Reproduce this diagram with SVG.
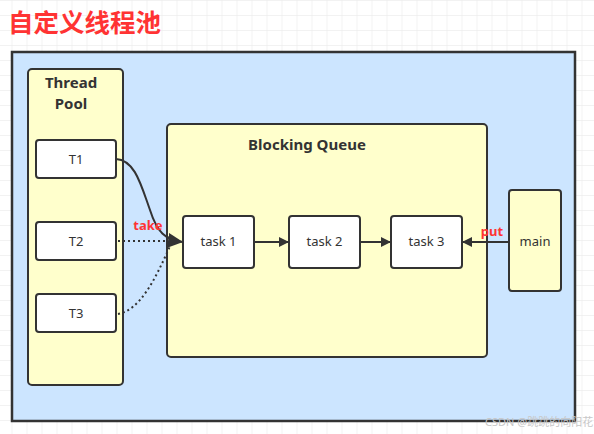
<svg xmlns="http://www.w3.org/2000/svg" width="594" height="434" viewBox="0 0 594 434">
<defs>
<pattern id="grid" x="11.5" y="0" width="15" height="15" patternUnits="userSpaceOnUse">
<path d="M0 0H15M0 0V15" fill="none" stroke="#e6e6e6" stroke-width="1"/>
</pattern>
<marker id="ah" viewBox="0 0 10 10" refX="10" refY="5" markerWidth="10" markerHeight="10" markerUnits="userSpaceOnUse" orient="auto">
<path d="M0 0L10 5L0 10Z" fill="#333"/>
</marker>
<marker id="ahb" viewBox="0 0 10 10" refX="10" refY="5" markerWidth="15" markerHeight="15" markerUnits="userSpaceOnUse" orient="auto">
<path d="M0 0L10 5L0 10Z" fill="#333"/>
</marker>
</defs>
<style>
.box{fill:#fff;stroke:#333;stroke-width:2}
.cont{fill:#ffffcc;stroke:#333;stroke-width:2}
.t{font-family:"Noto Sans","Open Sans",sans-serif;font-size:13px;fill:#333;text-anchor:middle}
.b{font-family:"Noto Sans","Open Sans",sans-serif;font-size:15px;font-weight:bold;fill:#333;text-anchor:middle}
.r{font-family:"Noto Sans","Open Sans",sans-serif;font-size:13px;font-weight:bold;fill:#ff3333;text-anchor:middle}
.c{fill:none;stroke:#333;stroke-width:2}
.d{fill:none;stroke:#333;stroke-width:2;stroke-dasharray:2 3}
</style>
<rect width="594" height="434" fill="#fff"/>
<rect width="594" height="434" fill="url(#grid)"/>
<text x="8" y="32" font-family="'Noto Sans CJK SC',sans-serif" font-size="25.5" font-weight="bold" fill="#ff3333">自定义线程池</text>
<rect x="12" y="52" width="563" height="369" fill="#cce5ff" stroke="#333" stroke-width="2.5"/>
<g id="threadpool"><rect class="cont" x="28" y="69" width="95" height="316" rx="4"/><text class="b" x="71" y="88">Thread</text><text class="b" x="71" y="109">Pool</text></g>
<g id="queue"><rect class="cont" x="167" y="124" width="320" height="233" rx="4"/><text class="b" x="307" y="150">Blocking Queue</text></g>
<g id="t1"><rect class="box" x="36" y="140" width="80" height="38" rx="3"/><text class="t" x="76" y="164">T1</text></g>
<g id="t2"><rect class="box" x="36" y="222" width="80" height="38" rx="3"/><text class="t" x="76" y="246">T2</text></g>
<g id="t3"><rect class="box" x="36" y="294" width="80" height="38" rx="3"/><text class="t" x="76" y="318">T3</text></g>
<g id="task1"><rect class="box" x="183" y="216" width="71" height="52" rx="3"/><text class="t" x="218.5" y="246">task 1</text></g>
<g id="task2"><rect class="box" x="289" y="216" width="71" height="52" rx="3"/><text class="t" x="324.5" y="246">task 2</text></g>
<g id="task3"><rect class="box" x="391" y="216" width="71" height="52" rx="3"/><text class="t" x="426.5" y="246">task 3</text></g>
<g id="main"><rect class="cont" x="509" y="190" width="52" height="101" rx="3"/><text class="t" x="535" y="246">main</text></g>
<g id="connectors">
<path class="c" d="M116 159C135 160 141 185 150 210C157 232 165 240 183 242" marker-end="url(#ahb)"/>
<path class="d" d="M118 241H168"/>
<path class="d" d="M118 314C140 310 155 280 170 246"/>
<path class="c" d="M254 242H289" marker-end="url(#ah)"/>
<path class="c" d="M360 242H391" marker-end="url(#ah)"/>
<path class="c" d="M509 242H462" marker-end="url(#ah)"/>
<text class="r" x="148" y="230">take</text>
<text class="r" x="492" y="236">put</text>
</g>
<text x="485" y="426" font-family="'Noto Sans','Noto Sans CJK SC',sans-serif" font-size="11" fill="#c8c8c8">CSDN @跳跳的向阳花</text>
</svg>
